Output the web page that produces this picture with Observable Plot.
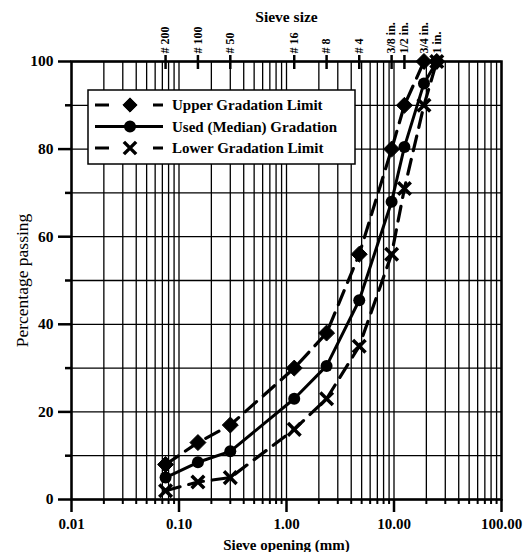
<!DOCTYPE html>
<html><head><meta charset="utf-8">
<script src="https://cdn.jsdelivr.net/npm/d3@7"></script>
<script src="https://cdn.jsdelivr.net/npm/@observablehq/plot@0.6"></script>
<style>body{margin:0;background:#fff}</style>
</head><body><div id="chart"></div>
<script>
const sieveOpenings = [0.075, 0.15, 0.3, 1.18, 2.36, 4.75, 9.5, 12.5, 19, 25];
const sieveLabels = ["# 200", "# 100", "# 50", "# 16", "# 8", "# 4", "3/8 in.", "1/2 in.", "3/4 in.", "1 in."];
const upperLimit = [8, 13, 17, 30, 38, 56, 80, 90, 100, 100];
const medianGradation = [5, 8.5, 11, 23, 30.5, 45.5, 68, 80.5, 95, 100];
const lowerLimit = [2, 4, 5, 16, 23, 35, 56, 71, 90, 100];
const seriesNames = ["Upper Gradation Limit", "Used (Median) Gradation", "Lower Gradation Limit"];
const xMajorTicks = [0.01, 0.1, 1, 10, 100];
const yMajorTicks = [0, 20, 40, 60, 80, 100];
const yMinorTicks = [10, 30, 50, 70, 90];

const rows = sieveOpenings.map((o, i) => ({
  opening: o, label: sieveLabels[i],
  upper: upperLimit[i], median: medianGradation[i], lower: lowerLimit[i]
}));
const xMinor = d3.range(-2, 2).flatMap(e => d3.range(2, 10).map(k => +(k * 10 ** e).toPrecision(3)));
const xGrid = [...xMinor, ...xMajorTicks];
const yGrid = [...yMajorTicks, ...yMinorTicks];
const font = "'Liberation Serif', 'Times New Roman', serif";
const dash = "15,9";

const plot = Plot.plot({
  width: 530, height: 552,
  marginLeft: 71, marginRight: 29, marginTop: 61, marginBottom: 53,
  style: {fontFamily: font, background: "#fff", color: "#000"},
  x: {type: "log", domain: [0.01, 100]},
  y: {domain: [0, 100]},
  marks: [
    Plot.gridX(xGrid, {stroke: "#000", strokeOpacity: 1, strokeWidth: 1.3}),
    Plot.gridY(yGrid, {stroke: "#000", strokeOpacity: 1, strokeWidth: 1.3}),
    Plot.axisY(yMajorTicks, {tickSize: 13, tickPadding: 5, tickFormat: d => String(d), fontSize: 15.5, fontWeight: "bold", label: null, strokeWidth: 2.5}),
    Plot.axisY(yMinorTicks, {tickSize: 6, tickFormat: () => "", label: null, strokeWidth: 2.5}),
    Plot.axisX(xMajorTicks, {anchor: "bottom", tickSize: 13, tickPadding: 6, tickFormat: d => d.toFixed(2), fontSize: 15, fontWeight: "bold", label: null, strokeWidth: 2.5}),
    Plot.axisX(xMinor, {anchor: "bottom", tickSize: 5, tickFormat: () => "", label: null, strokeWidth: 2}),
    Plot.axisX(sieveOpenings, {anchor: "top", tickSize: 7, tickFormat: () => "", label: null, strokeWidth: 2.5}),
    Plot.axisX(sieveOpenings, {anchor: "top", tickSize: -7, tickFormat: () => "", label: null, strokeWidth: 2.5}),
    Plot.text(rows, {x: "opening", frameAnchor: "top", lineAnchor: "middle", text: "label", rotate: -90, textAnchor: "start", dy: -8, fontSize: 12, fontWeight: "bold"}),
    Plot.frame({stroke: "#000", strokeWidth: 2.5}),
    Plot.line(rows, {x: "opening", y: "upper", stroke: "#000", strokeWidth: 3.2, strokeDasharray: dash}),
    Plot.line(rows, {x: "opening", y: "median", stroke: "#000", strokeWidth: 3}),
    Plot.line(rows, {x: "opening", y: "lower", stroke: "#000", strokeWidth: 3.2, strokeDasharray: dash}),
    Plot.dot(rows, {x: "opening", y: "upper", symbol: "diamond2", fill: "#000", stroke: "#000", strokeWidth: 1, r: 7.2}),
    Plot.dot(rows, {x: "opening", y: "median", symbol: "circle", fill: "#000", r: 6}),
    Plot.dot(rows, {x: "opening", y: "lower", symbol: "times", stroke: "#000", strokeWidth: 3.5, r: 5.8}),
    Plot.text(["Sieve size"], {frameAnchor: "top", lineAnchor: "middle", dy: -44, text: d => d, fontSize: 15.5, fontWeight: "bold"}),
    Plot.text(["Sieve opening (mm)"], {frameAnchor: "bottom", lineAnchor: "middle", dy: 46, text: d => d, fontSize: 15, fontWeight: "bold"}),
    Plot.text(["Percentage passing"], {frameAnchor: "left", textAnchor: "middle", lineAnchor: "middle", dx: -49, rotate: -90, text: d => d, fontSize: 17.5})
  ]
});

// Legend
const svg = d3.select(plot);
const lg = svg.append("g").attr("transform", "translate(88,90)");
lg.append("rect").attr("width", 267).attr("height", 74)
  .attr("fill", "#fff").attr("stroke", "#000").attr("stroke-width", 1.5);
const legendStyles = [
  {dash: "14,44", symbol: d3.symbolDiamond2, size: 130, fill: "#000", stroke: "#000", sw: 1},
  {dash: null, symbol: d3.symbolCircle, size: 113, fill: "#000", stroke: "none", sw: 0},
  {dash: "14,44", symbol: d3.symbolTimes, size: 100, fill: "none", stroke: "#000", sw: 3.5}
];
seriesNames.forEach((name, i) => {
  const st = legendStyles[i];
  const g = lg.append("g").attr("transform", `translate(0,${15 + i * 21.5})`);
  const ln = g.append("line").attr("x1", 7).attr("x2", 75).attr("stroke", "#000").attr("stroke-width", 3.2);
  if (st.dash) ln.attr("stroke-dasharray", st.dash);
  g.append("path").attr("d", d3.symbol(st.symbol, st.size)()).attr("transform", "translate(42,0)")
    .attr("fill", st.fill).attr("stroke", st.stroke).attr("stroke-width", st.sw);
  g.append("text").attr("x", 84).attr("dy", "0.35em").attr("text-anchor", "start")
    .attr("font-family", font).attr("font-size", 15).attr("font-weight", "bold")
    .attr("fill", "#000").text(name);
});

document.getElementById("chart").appendChild(plot);
</script>
</body></html>
